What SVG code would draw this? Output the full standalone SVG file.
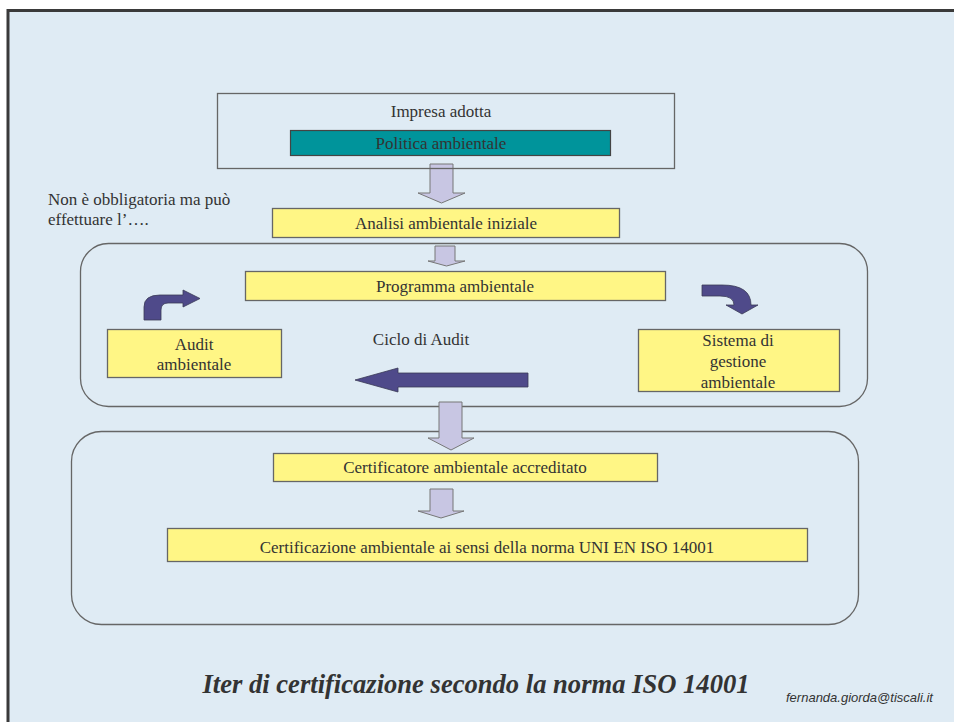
<svg xmlns="http://www.w3.org/2000/svg" width="954" height="722" viewBox="0 0 954 722">
<style>
.t{font-family:"Liberation Serif","Times New Roman",serif;font-size:17px;fill:#333;text-anchor:middle}
.box{fill:#FFF685;stroke:#666;stroke-width:1.3}
.plain{fill:none;stroke:#666;stroke-width:1.3}
.down{fill:#C8C6E3;stroke:#777;stroke-width:1}
.dark{fill:#4F4A8A;stroke:#3a3a55;stroke-width:0.8}
</style>
<rect x="0" y="0" width="954" height="722" fill="#fff"/>
<rect x="8" y="10.5" width="960" height="730" fill="#DFEBF4" stroke="#3a3a3a" stroke-width="3"/>

<g id="cycle-container"><rect x="80.5" y="243.5" width="787" height="163" rx="28" class="plain"/></g>
<g id="cert-container"><rect x="71.5" y="431.5" width="787" height="193" rx="30" class="plain"/></g>

<g id="connectors">
  <path class="down" d="M430,164 L453,164 L453,193 L465,193 L441.5,203 L418,193 L430,193 Z"/>
  <path class="down" d="M435,246 L455,246 L455,261 L465,261 L446.5,266 L428,261 L435,261 Z"/>
  <path class="down" d="M439,402 L462,402 L462,438 L474,438 L451,450 L428,438 L439,438 Z"/>
  <path class="down" d="M430,489 L453,489 L453,511 L464,511 L441,518 L418,511 L430,511 Z"/>
  <path class="dark" d="M144,320 L144,307 Q144,295 160,295 L183,295 L183,290 L200,298.5 L183,307 L183,303 L168,303 Q161,303 161,310 L161,320 Z"/>
  <path class="dark" d="M702,285 L722,285 Q751,285 751,305 L758,305 L742,314 L726,305 L734,305 Q734,296 720,296 L702,296 Z"/>
  <path class="dark" d="M528,373 L528,387 L398,387 L398,392 L355,380 L398,368 L398,373 Z"/>
</g>

<g id="impresa">
  <rect x="217.5" y="93.5" width="457" height="75" class="plain"/>
  <text x="441" y="117" class="t">Impresa adotta</text>
</g>
<g id="politica">
  <rect x="290.5" y="130.5" width="320" height="25" fill="#00949B" stroke="#444" stroke-width="1.2"/>
  <text x="441" y="148.5" class="t">Politica ambientale</text>
</g>
<g id="nota">
  <text x="48" y="205" class="t" style="text-anchor:start">Non è obbligatoria ma può</text>
  <text x="48" y="225" class="t" style="text-anchor:start">effettuare l’….</text>
</g>
<g id="analisi">
  <rect x="272.5" y="208.5" width="347" height="29" class="box"/>
  <text x="446" y="229" class="t">Analisi ambientale iniziale</text>
</g>
<g id="programma">
  <rect x="245.5" y="271.5" width="420" height="29" class="box"/>
  <text x="455" y="292" class="t">Programma ambientale</text>
</g>
<g id="audit">
  <rect x="107.5" y="329.5" width="174" height="48" class="box"/>
  <text x="194" y="350" class="t">Audit</text>
  <text x="194" y="370" class="t">ambientale</text>
</g>
<g id="ciclo"><text x="421" y="345" class="t">Ciclo di Audit</text></g>
<g id="sistema">
  <rect x="638.5" y="329.5" width="201" height="62" class="box"/>
  <text x="738" y="346" class="t">Sistema di</text>
  <text x="738" y="367" class="t">gestione</text>
  <text x="738" y="388" class="t">ambientale</text>
</g>
<g id="certificatore">
  <rect x="273.5" y="453.5" width="384" height="28" class="box"/>
  <text x="465" y="473" class="t">Certificatore ambientale accreditato</text>
</g>
<g id="certificazione">
  <rect x="167.5" y="528.5" width="640" height="33" class="box"/>
  <text x="487" y="553" class="t">Certificazione ambientale ai sensi della norma UNI EN ISO 14001</text>
</g>
<g id="titolo">
  <text x="476" y="693" class="t" style="font-size:28px;font-weight:bold;font-style:italic" textLength="547" lengthAdjust="spacingAndGlyphs">Iter di certificazione secondo la norma ISO 14001</text>
</g>
<g id="email">
  <text x="786" y="702" style="font-family:'Liberation Sans',Arial,sans-serif;font-size:13px;font-style:italic;fill:#333">fernanda.giorda@tiscali.it</text>
</g>
</svg>
